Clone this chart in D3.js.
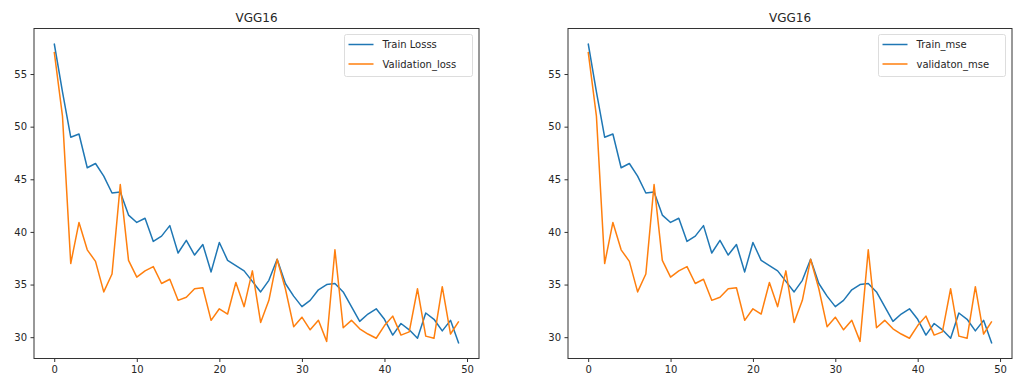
<!DOCTYPE html>
<html>
<head>
<meta charset="utf-8">
<script src="https://cdn.jsdelivr.net/npm/d3@7"></script>
<style>
	body { margin: 0; background: #fff; }
	svg text { font-family: "DejaVu Sans", sans-serif; fill: #262626; }
	.frame { fill: none; stroke: #333; stroke-width: 1; }
	.tick line { stroke: #333; }
	.tick text { font-size: 10px; }
	.legend-box { fill: #fff; fill-opacity: 0.8; stroke: #ddd; }
</style>
</head>
<body>
<svg width="1013" height="381"></svg>
<script>

// epochs 0..49
var epochs = d3.range(50);

var trainLoss = [57.9, 53.3, 49.0, 49.3, 46.1, 46.5, 45.3, 43.7, 43.8, 41.6,
	40.9, 41.3, 39.1, 39.6, 40.6, 38.0, 39.2, 37.8, 38.8, 36.2,
	39.0, 37.3, 36.8, 36.3, 35.3, 34.3, 35.4, 37.4, 35.1, 33.9,
	32.9, 33.5, 34.5, 35.0, 35.1, 34.3, 32.9, 31.5, 32.2, 32.7,
	31.7, 30.2, 31.3, 30.7, 29.9, 32.3, 31.7, 30.6, 31.6, 29.4];

var valLoss = [57.1, 51.0, 37.0, 40.9, 38.3, 37.2, 34.3, 36.0, 44.5, 37.3,
	35.7, 36.3, 36.7, 35.1, 35.5, 33.5, 33.8, 34.6, 34.7, 31.6,
	32.7, 32.2, 35.2, 32.9, 36.3, 31.4, 33.5, 37.4, 34.6, 31.0,
	31.9, 30.7, 31.6, 29.6, 38.3, 30.9, 31.6, 30.8, 30.3, 29.9,
	31.1, 32.0, 30.2, 30.5, 34.6, 30.1, 29.9, 34.8, 30.3, 31.5];

var xTicks = [0, 10, 20, 30, 40, 50];
var yTicks = [30, 35, 40, 45, 50, 55];

var panels = [
	{ title: "VGG16", left: 34, right: 479, names: ["Train Losss", "Validation_loss"], legendW: 128 },
	{ title: "VGG16", left: 568, right: 1012, names: ["Train_mse", "validaton_mse"], legendW: 127 }
];

var colors = ["#1f77b4", "#ff7f0e"];
var plotTop = 28.5, plotBottom = 358.5;

var svg = d3.select("svg");

// matplotlib style 5% margins
var xExt = d3.extent(epochs);
var xPad = (xExt[1] - xExt[0]) * 0.05;
var allY = trainLoss.concat(valLoss);
var yExt = d3.extent(allY);
var yPad = (yExt[1] - yExt[0]) * 0.05;

panels.forEach(function(p) {
	var x = d3.scaleLinear().domain([xExt[0] - xPad, xExt[1] + xPad]).range([p.left, p.right]);
	var y = d3.scaleLinear().domain([yExt[0] - yPad, yExt[1] + yPad]).range([plotBottom, plotTop]);

	var g = svg.append("g");

	var line = d3.line()
		.x(function(d, i) { return x(epochs[i]); })
		.y(function(d) { return y(d); });

	[trainLoss, valLoss].forEach(function(series, k) {
		g.append("path")
			.datum(series)
			.attr("fill", "none")
			.attr("stroke", colors[k])
			.attr("stroke-width", 1.5)
			.attr("stroke-linejoin", "round")
			.attr("d", line);
	});

	g.append("g")
		.attr("transform", "translate(0," + plotBottom + ")")
		.call(d3.axisBottom(x).tickValues(xTicks).tickSize(3.5).tickPadding(3.5))
		.call(function(a) { a.select(".domain").remove(); });

	g.append("g")
		.attr("transform", "translate(" + p.left + ",0)")
		.call(d3.axisLeft(y).tickValues(yTicks).tickSize(3.5).tickPadding(3.5))
		.call(function(a) { a.select(".domain").remove(); });

	g.append("rect")
		.attr("class", "frame")
		.attr("x", p.left)
		.attr("y", plotTop)
		.attr("width", p.right - p.left)
		.attr("height", plotBottom - plotTop);

	g.append("text")
		.attr("x", (p.left + p.right) / 2)
		.attr("y", plotTop - 6.5)
		.attr("text-anchor", "middle")
		.style("font-size", "12px")
		.text(p.title);

	// legend, upper right
	var lx = p.right - 6.5 - p.legendW, ly = plotTop + 6;
	var lg = g.append("g").attr("transform", "translate(" + lx + "," + ly + ")");
	lg.append("rect")
		.attr("class", "legend-box")
		.attr("width", p.legendW)
		.attr("height", 42)
		.attr("rx", 2);
	p.names.forEach(function(name, k) {
		var yy = 10 + k * 19.5;
		lg.append("line")
			.attr("x1", 4).attr("x2", 29)
			.attr("y1", yy).attr("y2", yy)
			.attr("stroke", colors[k])
			.attr("stroke-width", 1.5);
		lg.append("text")
			.attr("x", 38)
			.attr("y", yy + 3.5)
			.style("font-size", "10px")
			.text(name);
	});
});

</script>
</body>
</html>
